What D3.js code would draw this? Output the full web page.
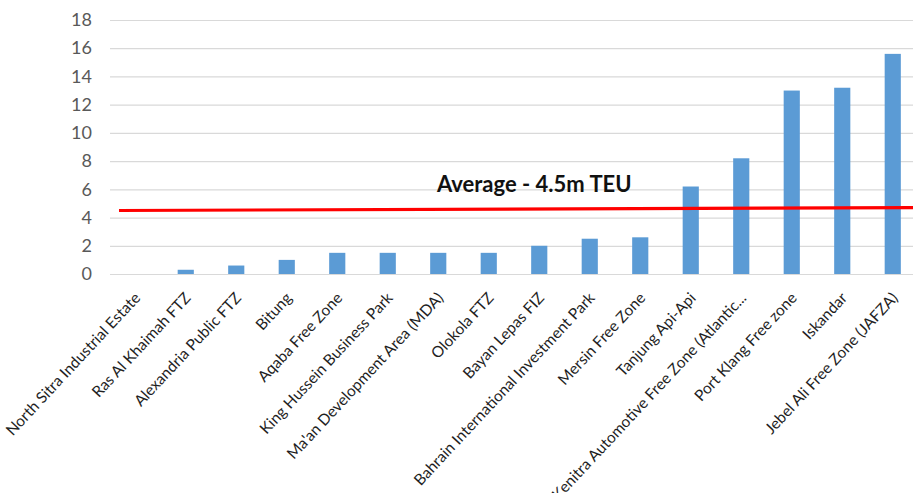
<!DOCTYPE html>
<html>
<head>
<meta charset="utf-8">
<script src="https://cdn.jsdelivr.net/npm/d3@7"></script>
<style>
  html, body { margin: 0; padding: 0; background: #fff; overflow: hidden; }
  svg { display: block; font-family: Lato, "Open Sans", sans-serif; }
</style>
</head>
<body>
<div id="chart"></div>
<script>
// Chart data
const zones = [
    "North Sitra Industrial Estate",
    "Ras Al Khaimah FTZ",
    "Alexandria Public FTZ",
    "Bitung",
    "Aqaba Free Zone",
    "King Hussein Business Park",
    "Ma'an Development Area (MDA)",
    "Olokola FTZ",
    "Bayan Lepas FIZ",
    "Bahrain International Investment Park",
    "Mersin Free Zone",
    "Tanjung Api-Api",
    "Kenitra Automotive Free Zone (Atlantic...",
    "Port Klang Free zone",
    "Iskandar",
    "Jebel Ali Free Zone (JAFZA)"
];
const teu = [0, 0.3, 0.6, 1.0, 1.5, 1.5, 1.5, 1.5, 2.0, 2.5, 2.6, 6.2, 8.2, 13.0, 13.2, 15.6];
const yTicks = [0, 2, 4, 6, 8, 10, 12, 14, 16, 18];
// hand-drawn average line, slightly tilted in the source
const averageLine = [4.5, 4.7];
const averageLabel = "Average - 4.5m TEU";

const width = 913;
const height = 493;

const svg = d3.select("#chart").append("svg")
    .attr("width", width)
    .attr("height", height);

const x = d3.scaleBand()
    .domain(zones)
    .range([110, 918])
    .paddingInner(0.68)
    .paddingOuter(0.34);

const y = d3.scaleLinear()
    .domain([0, 18])
    .range([274, 20]);

// y gridlines + labels
const yAxis = svg.append("g")
    .attr("transform", "translate(110,0)")
    .call(d3.axisLeft(y)
        .tickValues(yTicks)
        .tickSize(-(width - 110))
        .tickPadding(18));
yAxis.select(".domain").remove();
yAxis.selectAll(".tick line").attr("stroke", "#d9d9d9").attr("stroke-width", 1.2);
yAxis.selectAll(".tick text")
    .attr("fill", "#595959")
    .style("font-size", "18px")
    .style("font-family", "Lato, sans-serif");

// bars
svg.append("g").selectAll("rect")
    .data(zones)
    .join("rect")
    .attr("x", d => x(d))
    .attr("y", (d, i) => y(teu[i]))
    .attr("width", x.bandwidth())
    .attr("height", (d, i) => y(0) - y(teu[i]))
    .attr("fill", "#5b9bd5");

// x labels
const xAxis = svg.append("g")
    .attr("transform", `translate(0,${y(0)})`)
    .call(d3.axisBottom(x).tickSize(0));
xAxis.select(".domain").remove();
xAxis.selectAll(".tick text")
    .attr("y", 0)
    .attr("dy", "0.35em")
    .attr("text-anchor", "end")
    .attr("transform", "translate(2,21) rotate(-47)")
    .attr("fill", "#1f1f1f")
    .style("font-size", "15.5px")
    .style("font-family", "Lato, sans-serif");

// average line
const x0 = x.range()[0] + 9;
svg.append("line")
    .attr("x1", x0)
    .attr("y1", y(averageLine[0]))
    .attr("x2", width)
    .attr("y2", y(averageLine[1]))
    .attr("stroke", "#ff0000")
    .attr("stroke-width", 3.2);

svg.append("text")
    .attr("x", x(zones[8]) + x.bandwidth() / 2 - 5)
    .attr("y", y(5.8))
    .attr("text-anchor", "middle")
    .attr("fill", "#111")
    .style("font-size", "22px")
    .style("font-weight", "bold")
    .text(averageLabel);
</script>
</body>
</html>
